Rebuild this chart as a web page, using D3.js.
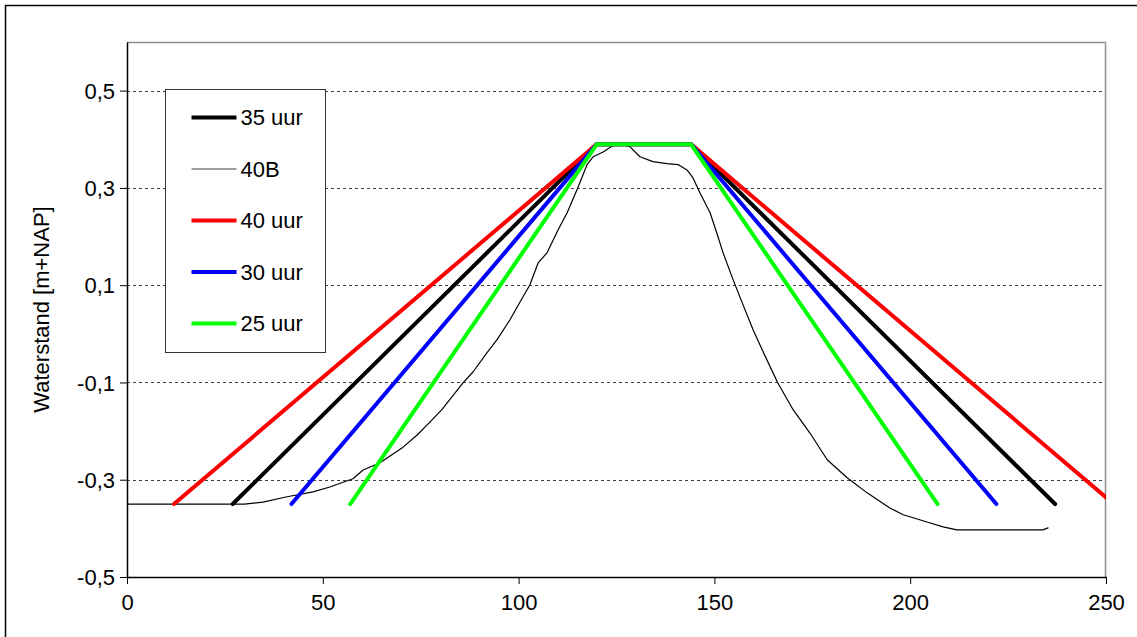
<!DOCTYPE html>
<html>
<head>
<meta charset="utf-8">
<script src="https://cdn.jsdelivr.net/npm/d3@7"></script>
<style>
  body { margin: 0; background: #fff; }
  svg text { font-family: "Liberation Sans", Arial, sans-serif; fill: #000; }
</style>
</head>
<body>
<div id="chart-area"></div>
<script>
// time axis in 10-minute steps, water level in m+NAP
const trapeziumY = [-0.35, 0.39, 0.39, -0.35];
const uur35X = [27, 120, 144, 237];
const uur40X = [12, 120, 144, 252];
const uur30X = [42, 120, 144, 222];
const uur25X = [57, 120, 144, 207];

const meting40BX = [0, 30, 34.7, 40.9, 47.5, 51.8, 57.7, 60.3, 64.6, 70.5, 74.1, 77.4, 80.4, 85.8, 88.4, 91.9,
    94.5, 97.8, 100.4, 102.9, 105, 107.3, 110.1, 112.4, 115.2, 117.5, 119, 121.6, 124.1, 126.4, 128.4, 131,
    134.3, 137.9, 140.7, 143, 144.5, 146.3, 148.9, 150.9, 152.2, 154.5, 156.5, 159.9, 162.2, 166.2, 170.1,
    174.4, 178.8, 183.9, 189, 194.8, 198.2, 204.3, 208.4, 211.9, 233.9, 235.2];
const meting40BY = [-0.35, -0.35, -0.346, -0.335, -0.325, -0.315, -0.298, -0.28, -0.265, -0.233, -0.208, -0.181,
    -0.156, -0.101, -0.078, -0.039, -0.012, 0.029, 0.066, 0.101, 0.146, 0.167, 0.214, 0.249, 0.302, 0.348,
    0.364, 0.374, 0.387, 0.389, 0.385, 0.364, 0.354, 0.35, 0.348, 0.337, 0.321, 0.29, 0.249, 0.2, 0.167,
    0.117, 0.076, 0.008, -0.033, -0.101, -0.156, -0.204, -0.259, -0.296, -0.327, -0.358, -0.372, -0.387,
    -0.397, -0.403, -0.403, -0.399];

const xTicks = [0, 50, 100, 150, 200, 250];
const yTicks = [-0.5, -0.3, -0.1, 0.1, 0.3, 0.5];
const gridValues = [-0.3, -0.1, 0.1, 0.3, 0.5];

const series = [
    { name: '35 uur', xs: uur35X, ys: trapeziumY, color: '#000000', width: 4 },
    { name: '40B', xs: meting40BX, ys: meting40BY, color: '#000000', width: 1.2 },
    { name: '40 uur', xs: uur40X, ys: trapeziumY, color: '#ff0000', width: 4 },
    { name: '30 uur', xs: uur30X, ys: trapeziumY, color: '#0000ff', width: 4 },
    { name: '25 uur', xs: uur25X, ys: trapeziumY, color: '#00ff00', width: 4 }
];

const W = 1137, H = 637;
const margin = { top: 42, right: 31, bottom: 60, left: 127 };
const width = W - margin.left - margin.right;
const height = H - margin.top - margin.bottom;

const svg = d3.select('#chart-area')
    .append('svg')
    .attr('width', W)
    .attr('height', H);

// outer chart border
svg.append('rect')
    .attr('x', 5.5).attr('y', 5.5)
    .attr('width', W + 10).attr('height', H + 10)
    .attr('fill', 'none')
    .attr('stroke', '#000')
    .attr('stroke-width', 1.5);

const chart = svg.append('g')
    .attr('transform', `translate(${margin.left},${margin.top})`);

const x = d3.scaleLinear().domain([0, 250]).range([0, width]);
const y = d3.scaleLinear().domain([-0.5, 0.6]).range([height, 0]);

chart.append('defs').append('clipPath')
    .attr('id', 'plot-clip')
    .append('rect')
    .attr('x', 0).attr('y', 0)
    .attr('width', width).attr('height', height);

// grid lines
chart.append('g')
    .selectAll('line')
    .data(gridValues)
    .join('line')
    .attr('x1', 0).attr('x2', width)
    .attr('y1', d => Math.round(y(d)) + 0.5)
    .attr('y2', d => Math.round(y(d)) + 0.5)
    .attr('stroke', '#404040')
    .attr('stroke-dasharray', '3,3');

// plot frame (top and right)
chart.append('path')
    .attr('d', `M0,0.5H${width - 0.5}V${height}`)
    .attr('fill', 'none')
    .attr('stroke', '#909090')
    .attr('stroke-width', 1.5);

const fmt = d => d3.format('.1f')(d).replace('.', ',').replace('−', '-');

const leftAxis = chart.append('g')
    .attr('class', 'axis left')
    .call(d3.axisLeft(y).tickValues(yTicks).tickFormat(fmt).tickSize(7).tickSizeOuter(0));

const bottomAxis = chart.append('g')
    .attr('class', 'axis bottom')
    .attr('transform', `translate(0,${height})`)
    .call(d3.axisBottom(x).tickValues(xTicks).tickFormat(d3.format('d')).tickSize(7).tickSizeOuter(0));

[leftAxis, bottomAxis].forEach(a => {
    a.select('.domain').attr('stroke', '#000').attr('stroke-width', 1.5);
    a.selectAll('.tick line').attr('stroke', '#000');
    a.selectAll('.tick text')
        .style('font-family', '"Liberation Sans", Arial, sans-serif')
        .style('font-size', '22px')
        .attr('fill', '#000');
});
leftAxis.selectAll('.tick text').attr('x', -12).attr('dy', '0.35em');
bottomAxis.selectAll('.tick text').attr('y', 17);

// y axis title
svg.append('text')
    .attr('transform', `translate(49,${margin.top + y(0.05)}) rotate(-90)`)
    .attr('text-anchor', 'middle')
    .style('font-size', '22px')
    .text('Waterstand [m+NAP]');

// series
const line = d3.line()
    .x(d => x(d[0]))
    .y(d => y(d[1]));

chart.append('g')
    .attr('clip-path', 'url(#plot-clip)')
    .selectAll('path')
    .data(series)
    .join('path')
    .attr('d', s => line(s.xs.map((v, i) => [v, s.ys[i]])))
    .attr('fill', 'none')
    .attr('stroke', s => s.color)
    .attr('stroke-width', s => s.width)
    .attr('stroke-linejoin', 'round')
    .attr('stroke-linecap', 'round');

// legend
const legend = svg.append('g')
    .attr('transform', 'translate(165.5,89.5)');

legend.append('rect')
    .attr('width', 160)
    .attr('height', 263)
    .attr('fill', '#fff')
    .attr('stroke', '#333')
    .attr('stroke-width', 1);

const rows = legend.selectAll('g.row')
    .data(series)
    .join('g')
    .attr('class', 'row')
    .attr('transform', (d, i) => `translate(0,${28 + i * 51.5})`);

rows.append('line')
    .attr('x1', 26).attr('x2', 71)
    .attr('stroke', d => d.color)
    .attr('stroke-width', d => d.width === 4 ? 4 : 1.2)
    .attr('stroke-opacity', d => d.width === 4 ? 1 : 0.75);

rows.append('text')
    .attr('x', 75)
    .attr('dy', '0.36em')
    .style('font-size', '22px')
    .text(d => d.name);
</script>
</body>
</html>
